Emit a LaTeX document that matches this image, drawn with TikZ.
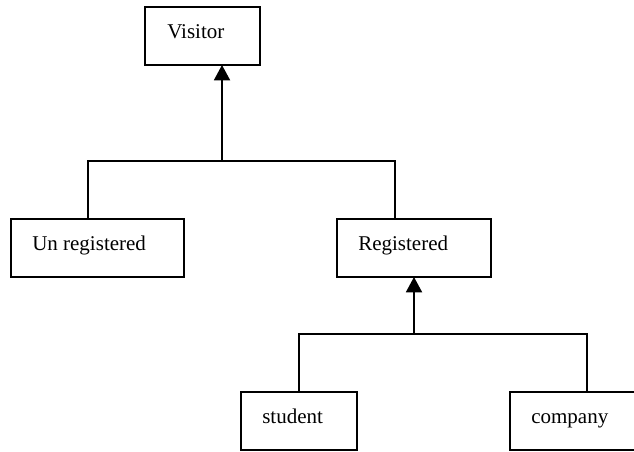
\documentclass[tikz,border=0pt]{standalone}
\usepackage{fontspec}
\setmainfont{Liberation Serif}
\usetikzlibrary{arrows.meta}
\begin{document}
\begin{tikzpicture}[x=0.75pt, y=-0.75pt,
  box/.style 2 args={draw, line width=1.4pt, inner sep=0pt, outer sep=0pt,
    minimum width=#1*0.75pt, minimum height=#2*0.75pt},
  lbl/.style={anchor=base west, inner sep=0pt,
    font=\fontsize{15.75}{18}\selectfont},
  link/.style={line width=1.4pt},
  inherit/.style={link, -{Triangle[length=11.5pt, width=12pt]}}]
  \useasboundingbox (0,0) rectangle (634,451);
  \clip (0,0) rectangle (634,451);

  % class boxes (the company box runs past the right margin)
  \node[box={115}{58}] (v) at (202.5,36) {};
  \node[box={173}{58}] (u) at (97.5,248) {};
  \node[box={154}{58}] (r) at (414,248) {};
  \node[box={116}{58}] (s) at (299,421) {};
  \node[box={154}{58}, minimum width=200*0.75pt, anchor=west] (c) at (510,421) {};

  % class names
  \node[lbl] (vt) at (167,38) {Visitor};
  \node[lbl] (ut) at (32,250) {Un registered};
  \node[lbl] (rt) at (358,250) {Registered};
  \node[lbl] (st) at (262,423) {student};
  \node[lbl] (ct) at (531,423) {company};

  % first level of the hierarchy
  \coordinate (h1) at (222,161);
  \coordinate (h1l) at (88,161);
  \coordinate (h1r) at (395,161);
  \draw[link] (h1l |- u.north) -- (h1l) -- (h1r) -- (h1r |- r.north);
  \draw[inherit] (h1) -- (h1 |- v.south);

  % second level of the hierarchy
  \coordinate (h2) at (414,334);
  \coordinate (h2l) at (299,334);
  \coordinate (h2r) at (587,334);
  \draw[link] (h2l |- s.north) -- (h2l) -- (h2r) -- (h2r |- c.north);
  \draw[inherit] (h2) -- (h2 |- r.south);
\end{tikzpicture}
\end{document}
